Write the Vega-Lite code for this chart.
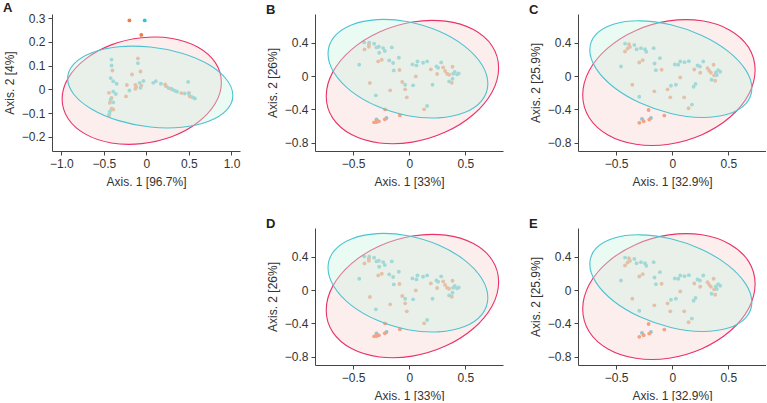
{
"$schema":"https://vega.github.io/schema/vega-lite/v6.json",
"padding":{"left":3,"top":2,"right":0,"bottom":0},
"datasets":{
"ptsA":[
{"grp":"1","x":-0.20,"y":0.29},{"grp":"1","x":-0.06,"y":0.229},{"grp":"1","x":-0.40,"y":0.079},{"grp":"1","x":-0.44,"y":-0.015},{"grp":"1","x":-0.41,"y":-0.036},{"grp":"1","x":-0.43,"y":-0.057},{"grp":"1","x":-0.39,"y":-0.085},{"grp":"1","x":-0.41,"y":-0.082},{"grp":"1","x":-0.44,"y":-0.11},{"grp":"1","x":-0.10,"y":0.13},{"grp":"1","x":-0.07,"y":0.075},{"grp":"1","x":-0.17,"y":0.062},{"grp":"1","x":-0.06,"y":0.016},{"grp":"1","x":-0.13,"y":0.018},{"grp":"1","x":-0.13,"y":0.002},{"grp":"1","x":-0.12,"y":0.01},{"grp":"1","x":-0.23,"y":0.018},{"grp":"1","x":-0.24,"y":-0.03},{"grp":"1","x":0.22,"y":0.02},{"grp":"1","x":0.23,"y":0.013},{"grp":"1","x":0.29,"y":0.002},{"grp":"1","x":0.41,"y":-0.016},{"grp":"1","x":0.50,"y":-0.015},{"grp":"1","x":0.51,"y":-0.03},{"grp":"1","x":0.53,"y":-0.032},
{"grp":"2","x":-0.02,"y":0.29},{"grp":"2","x":-0.41,"y":0.125},{"grp":"2","x":-0.41,"y":0.10},{"grp":"2","x":-0.42,"y":0.047},{"grp":"2","x":-0.39,"y":0.034},{"grp":"2","x":-0.35,"y":0.023},{"grp":"2","x":-0.39,"y":-0.01},{"grp":"2","x":-0.36,"y":-0.02},{"grp":"2","x":-0.42,"y":-0.043},{"grp":"2","x":-0.39,"y":-0.055},{"grp":"2","x":-0.43,"y":-0.093},{"grp":"2","x":-0.435,"y":-0.103},{"grp":"2","x":-0.10,"y":0.11},{"grp":"2","x":-0.035,"y":0.035},{"grp":"2","x":-0.08,"y":0.027},{"grp":"2","x":-0.20,"y":-0.005},{"grp":"2","x":-0.07,"y":0.006},{"grp":"2","x":0.08,"y":0.027},{"grp":"2","x":0.11,"y":0.034},{"grp":"2","x":0.17,"y":0.023},{"grp":"2","x":0.26,"y":0.005},{"grp":"2","x":0.31,"y":-0.002},{"grp":"2","x":0.34,"y":-0.007},{"grp":"2","x":0.36,"y":-0.01},{"grp":"2","x":0.45,"y":-0.018},{"grp":"2","x":0.49,"y":0.031},{"grp":"2","x":0.50,"y":-0.02},{"grp":"2","x":0.55,"y":-0.035},{"grp":"2","x":0.57,"y":-0.039}
],
"ptsB":[
{"grp":"2","x":-0.402,"y":0.404},{"grp":"2","x":-0.357,"y":0.400},{"grp":"2","x":-0.313,"y":0.388},{"grp":"2","x":-0.292,"y":0.344},{"grp":"2","x":-0.271,"y":0.352},{"grp":"2","x":-0.233,"y":0.336},{"grp":"2","x":-0.218,"y":0.300},{"grp":"2","x":-0.268,"y":0.280},{"grp":"2","x":-0.156,"y":0.344},{"grp":"2","x":-0.093,"y":0.220},{"grp":"2","x":-0.179,"y":0.188},{"grp":"2","x":-0.144,"y":0.156},{"grp":"2","x":-0.138,"y":0.068},{"grp":"2","x":-0.446,"y":0.136},{"grp":"2","x":-0.298,"y":-0.232},{"grp":"2","x":0.028,"y":0.140},{"grp":"2","x":0.064,"y":0.128},{"grp":"2","x":0.073,"y":0.176},{"grp":"2","x":0.123,"y":0.160},{"grp":"2","x":0.159,"y":0.176},{"grp":"2","x":0.242,"y":0.116},{"grp":"2","x":0.257,"y":0.100},{"grp":"2","x":0.284,"y":0.164},{"grp":"2","x":0.391,"y":0.028},{"grp":"2","x":0.405,"y":0.048},{"grp":"2","x":0.426,"y":0.020},{"grp":"2","x":0.44,"y":0.03},{"grp":"2","x":0.385,"y":-0.032},{"grp":"2","x":0.355,"y":-0.064},{"grp":"2","x":0.034,"y":-0.112},{"grp":"2","x":-0.037,"y":-0.104},{"grp":"2","x":0.207,"y":-0.104},{"grp":"2","x":0.159,"y":-0.360},{"grp":"2","x":-0.292,"y":-0.520},{"grp":"2","x":-0.203,"y":-0.504},
{"grp":"1","x":-0.36,"y":0.376},{"grp":"1","x":-0.360,"y":0.352},{"grp":"1","x":-0.399,"y":0.320},{"grp":"1","x":-0.277,"y":0.176},{"grp":"1","x":-0.245,"y":0.196},{"grp":"1","x":-0.087,"y":0.072},{"grp":"1","x":0.058,"y":-0.004},{"grp":"1","x":0.192,"y":0.080},{"grp":"1","x":0.248,"y":0.024},{"grp":"1","x":0.302,"y":0.104},{"grp":"1","x":0.385,"y":0.112},{"grp":"1","x":0.319,"y":0.060},{"grp":"1","x":0.337,"y":0.028},{"grp":"1","x":0.355,"y":0.016},{"grp":"1","x":0.379,"y":-0.080},{"grp":"1","x":-0.351,"y":-0.084},{"grp":"1","x":-0.170,"y":-0.172},{"grp":"1","x":-0.063,"y":-0.072},{"grp":"1","x":-0.037,"y":-0.160},{"grp":"1","x":-0.022,"y":-0.256},{"grp":"1","x":0.132,"y":-0.400},{"grp":"1","x":-0.215,"y":-0.400},{"grp":"1","x":-0.084,"y":-0.472},{"grp":"1","x":-0.313,"y":-0.556},{"grp":"1","x":-0.292,"y":-0.552},{"grp":"1","x":-0.271,"y":-0.544},{"grp":"1","x":-0.218,"y":-0.520}
],
"ptsC":[
{"grp":"2","x":-0.421,"y":0.390},{"grp":"2","x":-0.338,"y":0.374},{"grp":"2","x":-0.318,"y":0.322},{"grp":"2","x":-0.279,"y":0.335},{"grp":"2","x":-0.243,"y":0.322},{"grp":"2","x":-0.232,"y":0.291},{"grp":"2","x":-0.166,"y":0.335},{"grp":"2","x":-0.110,"y":0.215},{"grp":"2","x":-0.158,"y":0.151},{"grp":"2","x":-0.146,"y":0.071},{"grp":"2","x":-0.457,"y":0.115},{"grp":"2","x":0.023,"y":0.139},{"grp":"2","x":0.053,"y":0.135},{"grp":"2","x":0.071,"y":0.175},{"grp":"2","x":0.109,"y":0.167},{"grp":"2","x":0.148,"y":0.179},{"grp":"2","x":0.225,"y":0.127},{"grp":"2","x":0.246,"y":0.115},{"grp":"2","x":0.276,"y":0.175},{"grp":"2","x":0.388,"y":0.043},{"grp":"2","x":0.409,"y":0.071},{"grp":"2","x":0.427,"y":0.051},{"grp":"2","x":0.397,"y":0.012},{"grp":"2","x":0.350,"y":-0.044},{"grp":"2","x":0.032,"y":-0.104},{"grp":"2","x":-0.012,"y":-0.116},{"grp":"2","x":0.207,"y":-0.096},{"grp":"2","x":0.190,"y":-0.128},{"grp":"2","x":-0.294,"y":-0.248},{"grp":"2","x":0.175,"y":-0.343},{"grp":"2","x":-0.270,"y":-0.515},{"grp":"2","x":-0.190,"y":-0.503},
{"grp":"1","x":-0.386,"y":0.382},{"grp":"1","x":-0.377,"y":0.350},{"grp":"1","x":-0.398,"y":0.331},{"grp":"1","x":-0.421,"y":0.295},{"grp":"1","x":-0.294,"y":0.163},{"grp":"1","x":-0.264,"y":0.191},{"grp":"1","x":-0.095,"y":0.075},{"grp":"1","x":0.071,"y":-0.016},{"grp":"1","x":0.196,"y":0.079},{"grp":"1","x":0.249,"y":0.039},{"grp":"1","x":0.314,"y":0.095},{"grp":"1","x":0.368,"y":0.135},{"grp":"1","x":0.329,"y":0.063},{"grp":"1","x":0.344,"y":0.039},{"grp":"1","x":0.373,"y":0.008},{"grp":"1","x":0.382,"y":-0.056},{"grp":"1","x":-0.356,"y":-0.104},{"grp":"1","x":-0.160,"y":-0.184},{"grp":"1","x":-0.042,"y":-0.160},{"grp":"1","x":-0.018,"y":-0.256},{"grp":"1","x":0.106,"y":-0.256},{"grp":"1","x":0.145,"y":-0.387},{"grp":"1","x":-0.211,"y":-0.407},{"grp":"1","x":-0.071,"y":-0.475},{"grp":"1","x":-0.294,"y":-0.562},{"grp":"1","x":-0.255,"y":-0.543},{"grp":"1","x":-0.205,"y":-0.523}
],
"ellA":[
{"grp":"1","k":0,"x":0.881,"y":0.029},{"grp":"1","k":1,"x":0.810,"y":0.112},{"grp":"1","k":2,"x":0.607,"y":0.177},{"grp":"1","k":3,"x":0.303,"y":0.214},{"grp":"1","k":4,"x":-0.055,"y":0.217},{"grp":"1","k":5,"x":-0.413,"y":0.187},{"grp":"1","k":6,"x":-0.717,"y":0.127},{"grp":"1","k":7,"x":-0.920,"y":0.047},{"grp":"1","k":8,"x":-0.991,"y":-0.041},{"grp":"1","k":9,"x":-0.920,"y":-0.124},{"grp":"1","k":10,"x":-0.717,"y":-0.189},{"grp":"1","k":11,"x":-0.413,"y":-0.226},{"grp":"1","k":12,"x":-0.055,"y":-0.229},{"grp":"1","k":13,"x":0.303,"y":-0.199},{"grp":"1","k":14,"x":0.607,"y":-0.139},{"grp":"1","k":15,"x":0.810,"y":-0.059},
{"grp":"2","k":0,"x":1.016,"y":-0.026},{"grp":"2","k":1,"x":0.942,"y":0.041},{"grp":"2","k":2,"x":0.732,"y":0.104},{"grp":"2","k":3,"x":0.417,"y":0.152},{"grp":"2","k":4,"x":0.045,"y":0.178},{"grp":"2","k":5,"x":-0.327,"y":0.179},{"grp":"2","k":6,"x":-0.642,"y":0.154},{"grp":"2","k":7,"x":-0.852,"y":0.107},{"grp":"2","k":8,"x":-0.926,"y":0.045},{"grp":"2","k":9,"x":-0.852,"y":-0.022},{"grp":"2","k":10,"x":-0.642,"y":-0.084},{"grp":"2","k":11,"x":-0.327,"y":-0.132},{"grp":"2","k":12,"x":0.045,"y":-0.159},{"grp":"2","k":13,"x":0.417,"y":-0.160},{"grp":"2","k":14,"x":0.732,"y":-0.135},{"grp":"2","k":15,"x":0.942,"y":-0.088}
],
"ellB":[
{"grp":"1","k":0,"x":0.796,"y":0.098},{"grp":"1","k":1,"x":0.738,"y":0.361},{"grp":"1","k":2,"x":0.571,"y":0.558},{"grp":"1","k":3,"x":0.322,"y":0.659},{"grp":"1","k":4,"x":0.028,"y":0.649},{"grp":"1","k":5,"x":-0.266,"y":0.529},{"grp":"1","k":6,"x":-0.515,"y":0.318},{"grp":"1","k":7,"x":-0.682,"y":0.047},{"grp":"1","k":8,"x":-0.740,"y":-0.242},{"grp":"1","k":9,"x":-0.682,"y":-0.505},{"grp":"1","k":10,"x":-0.515,"y":-0.702},{"grp":"1","k":11,"x":-0.266,"y":-0.803},{"grp":"1","k":12,"x":0.028,"y":-0.793},{"grp":"1","k":13,"x":0.322,"y":-0.673},{"grp":"1","k":14,"x":0.571,"y":-0.462},{"grp":"1","k":15,"x":0.738,"y":-0.191},
{"grp":"2","k":0,"x":0.700,"y":-0.092},{"grp":"2","k":1,"x":0.646,"y":0.138},{"grp":"2","k":2,"x":0.492,"y":0.360},{"grp":"2","k":3,"x":0.261,"y":0.540},{"grp":"2","k":4,"x":-0.012,"y":0.652},{"grp":"2","k":5,"x":-0.285,"y":0.678},{"grp":"2","k":6,"x":-0.516,"y":0.614},{"grp":"2","k":7,"x":-0.670,"y":0.470},{"grp":"2","k":8,"x":-0.724,"y":0.268},{"grp":"2","k":9,"x":-0.670,"y":0.039},{"grp":"2","k":10,"x":-0.516,"y":-0.184},{"grp":"2","k":11,"x":-0.285,"y":-0.364},{"grp":"2","k":12,"x":-0.012,"y":-0.476},{"grp":"2","k":13,"x":0.261,"y":-0.502},{"grp":"2","k":14,"x":0.492,"y":-0.438},{"grp":"2","k":15,"x":0.646,"y":-0.294}
],
"ellC":[
{"grp":"1","k":0,"x":0.738,"y":0.072},{"grp":"1","k":1,"x":0.680,"y":0.344},{"grp":"1","k":2,"x":0.513,"y":0.551},{"grp":"1","k":3,"x":0.264,"y":0.663},{"grp":"1","k":4,"x":-0.030,"y":0.662},{"grp":"1","k":5,"x":-0.324,"y":0.548},{"grp":"1","k":6,"x":-0.573,"y":0.339},{"grp":"1","k":7,"x":-0.740,"y":0.067},{"grp":"1","k":8,"x":-0.798,"y":-0.228},{"grp":"1","k":9,"x":-0.740,"y":-0.500},{"grp":"1","k":10,"x":-0.573,"y":-0.707},{"grp":"1","k":11,"x":-0.324,"y":-0.819},{"grp":"1","k":12,"x":-0.030,"y":-0.818},{"grp":"1","k":13,"x":0.264,"y":-0.704},{"grp":"1","k":14,"x":0.513,"y":-0.495},{"grp":"1","k":15,"x":0.680,"y":-0.223},
{"grp":"2","k":0,"x":0.709,"y":-0.147},{"grp":"2","k":1,"x":0.654,"y":0.074},{"grp":"2","k":2,"x":0.498,"y":0.297},{"grp":"2","k":3,"x":0.263,"y":0.487},{"grp":"2","k":4,"x":-0.013,"y":0.615},{"grp":"2","k":5,"x":-0.289,"y":0.663},{"grp":"2","k":6,"x":-0.524,"y":0.622},{"grp":"2","k":7,"x":-0.680,"y":0.499},{"grp":"2","k":8,"x":-0.735,"y":0.313},{"grp":"2","k":9,"x":-0.680,"y":0.092},{"grp":"2","k":10,"x":-0.524,"y":-0.131},{"grp":"2","k":11,"x":-0.289,"y":-0.321},{"grp":"2","k":12,"x":-0.013,"y":-0.449},{"grp":"2","k":13,"x":0.263,"y":-0.497},{"grp":"2","k":14,"x":0.498,"y":-0.456},{"grp":"2","k":15,"x":0.654,"y":-0.333}
]
},
"columns":3,
"spacing":{"column":26,"row":31},
"concat":[
{"title":"A","width":188,"height":137,
 "layer":[
  {"data":{"name":"ptsA"},"mark":{"type":"point","filled":true,"size":15,"opacity":1},
   "encoding":{
    "x":{"field":"x","type":"quantitative","scale":{"domain":[-1.11,1.1],"nice":false,"zero":false},"axis":{"title":"Axis. 1 [96.7%]","values":[-1,-0.5,0,0.5,1],"tickCount":10,"labelExpr":"datum.value == 0 ? '0' : format(datum.value, '.1f')"}},
    "y":{"field":"y","type":"quantitative","scale":{"domain":[-0.26,0.317],"nice":false,"zero":false},"axis":{"title":"Axis. 2 [4%]","values":[-0.2,-0.1,0,0.1,0.2,0.3],"tickCount":10,"labelExpr":"datum.value == 0 ? '0' : format(datum.value, '.1f')"}},
    "color":{"field":"grp","type":"nominal","scale":{"domain":["1","2"],"range":["#f07c4a","#3dbfcc"]},"legend":null}}},
  {"data":{"name":"ellA"},"transform":[{"filter":"datum.grp == '1'"}],"mark":{"type":"line","interpolate":"cardinal-closed","fill":"#fbd6d6","fillOpacity":0.42,"stroke":"#e8336b","strokeWidth":1.1},
   "encoding":{"x":{"field":"x","type":"quantitative"},"y":{"field":"y","type":"quantitative"},"order":{"field":"k","type":"quantitative"}}},
  {"data":{"name":"ellA"},"transform":[{"filter":"datum.grp == '2'"}],"mark":{"type":"line","interpolate":"cardinal-closed","fill":"#c8f5e1","fillOpacity":0.38,"stroke":"#4dc3d0","strokeWidth":1.1},
   "encoding":{"x":{"field":"x","type":"quantitative"},"y":{"field":"y","type":"quantitative"},"order":{"field":"k","type":"quantitative"}}}
 ]},
{"title":"B","width":188,"height":137,
 "layer":[
  {"data":{"name":"ptsB"},"mark":{"type":"point","filled":true,"size":15,"opacity":1},
   "encoding":{
    "x":{"field":"x","type":"quantitative","scale":{"domain":[-0.84,0.835],"nice":false,"zero":false},"axis":{"title":"Axis. 1 [33%]","values":[-0.5,0,0.5],"tickCount":10,"labelExpr":"datum.value == 0 ? '0' : format(datum.value, '.1f')"}},
    "y":{"field":"y","type":"quantitative","scale":{"domain":[-0.9,0.745],"nice":false,"zero":false},"axis":{"title":"Axis. 2 [26%]","values":[-0.8,-0.4,0,0.4],"tickCount":10,"labelExpr":"datum.value == 0 ? '0' : format(datum.value, '.1f')"}},
    "color":{"field":"grp","type":"nominal","scale":{"domain":["1","2"],"range":["#f07c4a","#3dbfcc"]},"legend":null}}},
  {"data":{"name":"ellB"},"transform":[{"filter":"datum.grp == '1'"}],"mark":{"type":"line","interpolate":"cardinal-closed","fill":"#fbd6d6","fillOpacity":0.42,"stroke":"#e8336b","strokeWidth":1.1},
   "encoding":{"x":{"field":"x","type":"quantitative"},"y":{"field":"y","type":"quantitative"},"order":{"field":"k","type":"quantitative"}}},
  {"data":{"name":"ellB"},"transform":[{"filter":"datum.grp == '2'"}],"mark":{"type":"line","interpolate":"cardinal-closed","fill":"#c8f5e1","fillOpacity":0.38,"stroke":"#4dc3d0","strokeWidth":1.1},
   "encoding":{"x":{"field":"x","type":"quantitative"},"y":{"field":"y","type":"quantitative"},"order":{"field":"k","type":"quantitative"}}}
 ]},
{"title":"C","width":188,"height":137,
 "layer":[
  {"data":{"name":"ptsC"},"mark":{"type":"point","filled":true,"size":15,"opacity":1},
   "encoding":{
    "x":{"field":"x","type":"quantitative","scale":{"domain":[-0.84,0.835],"nice":false,"zero":false},"axis":{"title":"Axis. 1 [32.9%]","values":[-0.5,0,0.5],"tickCount":10,"labelExpr":"datum.value == 0 ? '0' : format(datum.value, '.1f')"}},
    "y":{"field":"y","type":"quantitative","scale":{"domain":[-0.9,0.745],"nice":false,"zero":false},"axis":{"title":"Axis. 2 [25.9%]","values":[-0.8,-0.4,0,0.4],"tickCount":10,"labelExpr":"datum.value == 0 ? '0' : format(datum.value, '.1f')"}},
    "color":{"field":"grp","type":"nominal","scale":{"domain":["1","2"],"range":["#f07c4a","#3dbfcc"]},"legend":null}}},
  {"data":{"name":"ellC"},"transform":[{"filter":"datum.grp == '1'"}],"mark":{"type":"line","interpolate":"cardinal-closed","fill":"#fbd6d6","fillOpacity":0.42,"stroke":"#e8336b","strokeWidth":1.1},
   "encoding":{"x":{"field":"x","type":"quantitative"},"y":{"field":"y","type":"quantitative"},"order":{"field":"k","type":"quantitative"}}},
  {"data":{"name":"ellC"},"transform":[{"filter":"datum.grp == '2'"}],"mark":{"type":"line","interpolate":"cardinal-closed","fill":"#c8f5e1","fillOpacity":0.38,"stroke":"#4dc3d0","strokeWidth":1.1},
   "encoding":{"x":{"field":"x","type":"quantitative"},"y":{"field":"y","type":"quantitative"},"order":{"field":"k","type":"quantitative"}}}
 ]},
{"width":188,"height":137,"data":{"values":[{"grp":"1"}]},"mark":{"type":"point","opacity":0}},
{"title":"D","width":188,"height":137,
 "layer":[
  {"data":{"name":"ptsB"},"mark":{"type":"point","filled":true,"size":15,"opacity":1},
   "encoding":{
    "x":{"field":"x","type":"quantitative","scale":{"domain":[-0.84,0.835],"nice":false,"zero":false},"axis":{"title":"Axis. 1 [33%]","values":[-0.5,0,0.5],"tickCount":10,"labelExpr":"datum.value == 0 ? '0' : format(datum.value, '.1f')"}},
    "y":{"field":"y","type":"quantitative","scale":{"domain":[-0.9,0.745],"nice":false,"zero":false},"axis":{"title":"Axis. 2 [26%]","values":[-0.8,-0.4,0,0.4],"tickCount":10,"labelExpr":"datum.value == 0 ? '0' : format(datum.value, '.1f')"}},
    "color":{"field":"grp","type":"nominal","scale":{"domain":["1","2"],"range":["#f07c4a","#3dbfcc"]},"legend":null}}},
  {"data":{"name":"ellB"},"transform":[{"filter":"datum.grp == '1'"}],"mark":{"type":"line","interpolate":"cardinal-closed","fill":"#fbd6d6","fillOpacity":0.42,"stroke":"#e8336b","strokeWidth":1.1},
   "encoding":{"x":{"field":"x","type":"quantitative"},"y":{"field":"y","type":"quantitative"},"order":{"field":"k","type":"quantitative"}}},
  {"data":{"name":"ellB"},"transform":[{"filter":"datum.grp == '2'"}],"mark":{"type":"line","interpolate":"cardinal-closed","fill":"#c8f5e1","fillOpacity":0.38,"stroke":"#4dc3d0","strokeWidth":1.1},
   "encoding":{"x":{"field":"x","type":"quantitative"},"y":{"field":"y","type":"quantitative"},"order":{"field":"k","type":"quantitative"}}}
 ]},
{"title":"E","width":188,"height":137,
 "layer":[
  {"data":{"name":"ptsC"},"mark":{"type":"point","filled":true,"size":15,"opacity":1},
   "encoding":{
    "x":{"field":"x","type":"quantitative","scale":{"domain":[-0.84,0.835],"nice":false,"zero":false},"axis":{"title":"Axis. 1 [32.9%]","values":[-0.5,0,0.5],"tickCount":10,"labelExpr":"datum.value == 0 ? '0' : format(datum.value, '.1f')"}},
    "y":{"field":"y","type":"quantitative","scale":{"domain":[-0.9,0.745],"nice":false,"zero":false},"axis":{"title":"Axis. 2 [25.9%]","values":[-0.8,-0.4,0,0.4],"tickCount":10,"labelExpr":"datum.value == 0 ? '0' : format(datum.value, '.1f')"}},
    "color":{"field":"grp","type":"nominal","scale":{"domain":["1","2"],"range":["#f07c4a","#3dbfcc"]},"legend":null}}},
  {"data":{"name":"ellC"},"transform":[{"filter":"datum.grp == '1'"}],"mark":{"type":"line","interpolate":"cardinal-closed","fill":"#fbd6d6","fillOpacity":0.42,"stroke":"#e8336b","strokeWidth":1.1},
   "encoding":{"x":{"field":"x","type":"quantitative"},"y":{"field":"y","type":"quantitative"},"order":{"field":"k","type":"quantitative"}}},
  {"data":{"name":"ellC"},"transform":[{"filter":"datum.grp == '2'"}],"mark":{"type":"line","interpolate":"cardinal-closed","fill":"#c8f5e1","fillOpacity":0.38,"stroke":"#4dc3d0","strokeWidth":1.1},
   "encoding":{"x":{"field":"x","type":"quantitative"},"y":{"field":"y","type":"quantitative"},"order":{"field":"k","type":"quantitative"}}}
 ]}
],
"resolve":{"scale":{"x":"independent","y":"independent"}},
"config":{
 "view":{"stroke":null},
 "font":"Liberation Sans",
 "axis":{"domainColor":"#444","tickColor":"#444","tickSize":4,"labelFontSize":12,"labelColor":"#333","titleFontSize":12,"titleFontWeight":"normal","titleColor":"#333","grid":false,"labelPadding":3,"labelFlush":false,"labelOverlap":false},
 "axisX":{"titlePadding":7},
 "axisY":{"titlePadding":4,"minExtent":32,"maxExtent":32},
 "title":{"anchor":"start","frame":"bounds","fontSize":13,"fontWeight":"bold","color":"#222","offset":-3}
}
}
